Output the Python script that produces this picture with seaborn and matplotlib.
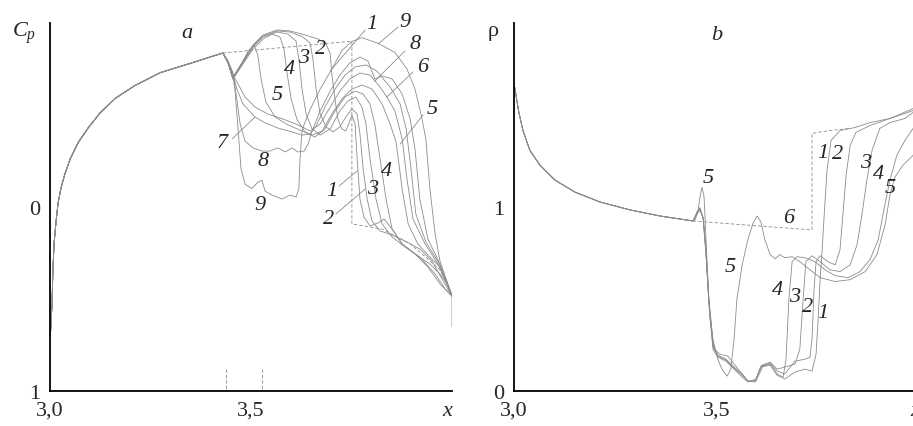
import numpy as np
import pandas as pd
import matplotlib
matplotlib.use("Agg")
import matplotlib.pyplot as plt
import seaborn as sns

sns.set_style("white")
plt.rcParams['font.family'] = ['Liberation Serif', 'DejaVu Serif']
plt.rcParams['mathtext.fontset'] = 'custom'
plt.rcParams['mathtext.it'] = 'Liberation Serif:italic'
plt.rcParams['mathtext.rm'] = 'Liberation Serif'

# ---------------- panel a : Cp(x) ----------------
base_a_x = [3.001, 3.002, 3.005, 3.007, 3.010, 3.015, 3.020, 3.027, 3.037, 3.050, 3.070, 3.095,
            3.124, 3.162, 3.211, 3.274, 3.348, 3.398, 3.430]
base_a_cp = [0.70, 0.65, 0.53, 0.36, 0.20, 0.08, -0.02, -0.10, -0.18, -0.26, -0.35, -0.43,
             -0.51, -0.59, -0.66, -0.73, -0.78, -0.815, -0.837]

a1_x = [3.443, 3.455, 3.480, 3.505, 3.530, 3.565, 3.597, 3.634, 3.667, 3.687, 3.697, 3.701, 3.709, 3.716,
        3.726, 3.736, 3.744, 3.751, 3.759, 3.764, 3.771, 3.781, 3.796, 3.816, 3.831, 3.851, 3.876, 3.908,
        3.945, 3.970, 3.988, 4.000]
a1_cp = [-0.783, -0.707, -0.793, -0.880, -0.935, -0.962, -0.957, -0.935, -0.913, -0.886, -0.832, -0.723,
         -0.587, -0.478, -0.424, -0.413, -0.457, -0.5, -0.451, -0.261, -0.043, 0.054, 0.103, 0.087, 0.065,
         0.120, 0.201, 0.255, 0.310, 0.364, 0.418, 0.484]
a2_x = [3.443, 3.455, 3.480, 3.505, 3.530, 3.565, 3.597, 3.629, 3.647, 3.654, 3.662, 3.672, 3.687, 3.704,
        3.721, 3.736, 3.751, 3.764, 3.771, 3.779, 3.789, 3.801, 3.821, 3.851, 3.883, 3.920, 3.950, 3.975, 4.000]
a2_cp = [-0.783, -0.701, -0.788, -0.875, -0.929, -0.957, -0.951, -0.924, -0.891, -0.804, -0.641, -0.505,
         -0.435, -0.408, -0.435, -0.489, -0.533, -0.505, -0.397, -0.207, -0.043, 0.076, 0.130, 0.152, 0.185,
         0.228, 0.293, 0.391, 0.484]
a3_x = [3.443, 3.455, 3.480, 3.505, 3.530, 3.565, 3.592, 3.612, 3.619, 3.627, 3.637, 3.652, 3.672, 3.697,
        3.721, 3.741, 3.761, 3.776, 3.786, 3.796, 3.811, 3.826, 3.851, 3.883, 3.920, 3.958, 3.983, 4.000]
a3_cp = [-0.783, -0.696, -0.783, -0.870, -0.924, -0.951, -0.940, -0.902, -0.804, -0.641, -0.505, -0.424,
         -0.391, -0.424, -0.522, -0.576, -0.598, -0.543, -0.451, -0.261, -0.043, 0.092, 0.163, 0.217, 0.272,
         0.364, 0.446, 0.484]
a4_x = [3.443, 3.455, 3.480, 3.505, 3.530, 3.552, 3.572, 3.582, 3.590, 3.600, 3.614, 3.634, 3.659, 3.684,
        3.709, 3.734, 3.759, 3.779, 3.796, 3.808, 3.821, 3.836, 3.851, 3.876, 3.908, 3.940, 3.970, 4.000]
a4_cp = [-0.783, -0.696, -0.777, -0.859, -0.913, -0.940, -0.924, -0.859, -0.723, -0.587, -0.478, -0.408,
         -0.380, -0.424, -0.522, -0.598, -0.630, -0.614, -0.560, -0.451, -0.261, -0.043, 0.120, 0.201, 0.255,
         0.326, 0.418, 0.484]
a5_x = [3.443, 3.455, 3.475, 3.493, 3.507, 3.517, 3.525, 3.537, 3.560, 3.592, 3.622, 3.652, 3.677, 3.701,
        3.726, 3.751, 3.776, 3.801, 3.826, 3.846, 3.861, 3.876, 3.891, 3.915, 3.945, 3.970, 3.988, 4.000]
a5_cp = [-0.783, -0.696, -0.772, -0.848, -0.880, -0.826, -0.696, -0.571, -0.489, -0.446, -0.418, -0.391,
         -0.413, -0.505, -0.587, -0.641, -0.663, -0.641, -0.560, -0.451, -0.353, -0.098, 0.092, 0.201, 0.272,
         0.326, 0.408, 0.484]
a6_x = [3.443, 3.455, 3.468, 3.485, 3.510, 3.542, 3.580, 3.617, 3.647, 3.672, 3.697, 3.721, 3.746, 3.771,
        3.796, 3.821, 3.838, 3.858, 3.876, 3.888, 3.903, 3.933, 3.965, 4.000]
a6_cp = [-0.788, -0.717, -0.668, -0.598, -0.543, -0.505, -0.478, -0.446, -0.413, -0.451, -0.543, -0.630,
         -0.696, -0.728, -0.717, -0.652, -0.598, -0.522, -0.370, -0.152, 0.065, 0.201, 0.310, 0.484]
a7_x = [3.443, 3.455, 3.465, 3.480, 3.510, 3.535, 3.567, 3.602, 3.627, 3.647, 3.662, 3.684, 3.709, 3.734,
        3.759, 3.786, 3.813, 3.846, 3.871, 3.886, 3.898, 3.910, 3.935, 3.970, 4.000]
a7_cp = [-0.788, -0.717, -0.641, -0.560, -0.489, -0.457, -0.429, -0.408, -0.391, -0.397, -0.440, -0.543,
         -0.641, -0.717, -0.761, -0.772, -0.739, -0.652, -0.560, -0.424, -0.207, 0.038, 0.190, 0.315, 0.484]
a8_x = [3.443, 3.455, 3.463, 3.473, 3.485, 3.505, 3.527, 3.547, 3.567, 3.585, 3.602, 3.617, 3.632, 3.642,
        3.652, 3.672, 3.697, 3.721, 3.746, 3.771, 3.791, 3.808, 3.826, 3.851, 3.876, 3.896, 3.908, 3.920,
        3.940, 3.970, 4.000]
a8_cp = [-0.793, -0.728, -0.614, -0.451, -0.359, -0.321, -0.304, -0.304, -0.321, -0.299, -0.321, -0.299,
         -0.304, -0.342, -0.413, -0.522, -0.630, -0.717, -0.783, -0.815, -0.793, -0.696, -0.712, -0.696,
         -0.614, -0.478, -0.315, -0.043, 0.174, 0.310, 0.484]
a9_x = [3.443, 3.453, 3.460, 3.468, 3.475, 3.485, 3.502, 3.517, 3.527, 3.535, 3.552, 3.577, 3.597, 3.612,
        3.619, 3.622, 3.627, 3.647, 3.672, 3.701, 3.726, 3.751, 3.776, 3.816, 3.858, 3.888, 3.908, 3.923,
        3.935, 3.945, 3.958, 3.970, 3.985, 4.000, 4.000]
a9_cp = [-0.79, -0.74, -0.64, -0.42, -0.21, -0.125, -0.10, -0.135, -0.145, -0.087, -0.065, -0.043, -0.065,
         -0.054, -0.098, -0.26, -0.42, -0.53, -0.64, -0.75, -0.85, -0.90, -0.92, -0.89, -0.84, -0.75, -0.64,
         -0.505, -0.37, -0.10, 0.147, 0.293, 0.39, 0.48, 0.65]
a_dash_x = [3.430, 3.744, 3.751, 3.751, 3.826, 3.896, 3.970, 4.000]
a_dash_cp = [-0.837, -0.90, -0.90, 0.092, 0.12, 0.20, 0.34, 0.48]
a_marks_x = [3.438, 3.527]
a_marks_cp = [0.88, 1.0]

# ---------------- panel b : rho(x) ----------------
base_b_x = [3.002, 3.007, 3.012, 3.022, 3.039, 3.064, 3.101, 3.150, 3.212, 3.286, 3.360, 3.441]
base_b_rho = [1.649, 1.578, 1.514, 1.416, 1.308, 1.227, 1.146, 1.081, 1.027, 0.984, 0.951, 0.924]

b1_x = [3.451, 3.458, 3.466, 3.473, 3.480, 3.490, 3.502, 3.522, 3.542, 3.562, 3.576, 3.594, 3.608, 3.631,
        3.648, 3.667, 3.692, 3.717, 3.734, 3.744, 3.749, 3.754, 3.759, 3.764, 3.771, 3.781, 3.803, 3.840,
        3.877, 3.926, 3.983, 4.000]
b1_rho = [0.962, 0.984, 0.941, 0.768, 0.497, 0.254, 0.195, 0.173, 0.130, 0.092, 0.054, 0.049, 0.130, 0.141,
          0.086, 0.065, 0.103, 0.119, 0.108, 0.200, 0.389, 0.605, 0.768, 0.957, 1.200, 1.362, 1.416, 1.432,
          1.459, 1.481, 1.535, 1.562]
b2_x = [3.451, 3.458, 3.466, 3.473, 3.480, 3.490, 3.502, 3.522, 3.542, 3.562, 3.576, 3.594, 3.608, 3.631,
        3.648, 3.667, 3.692, 3.717, 3.729, 3.734, 3.739, 3.744, 3.754, 3.773, 3.791, 3.803, 3.810, 3.818,
        3.828, 3.842, 3.877, 3.926, 3.983, 4.000]
b2_rho = [0.968, 0.989, 0.941, 0.757, 0.486, 0.243, 0.189, 0.168, 0.124, 0.086, 0.054, 0.054, 0.135, 0.151,
          0.108, 0.092, 0.162, 0.173, 0.184, 0.281, 0.551, 0.703, 0.735, 0.703, 0.686, 0.768, 0.957, 1.173,
          1.335, 1.405, 1.443, 1.481, 1.524, 1.546]
b3_x = [3.451, 3.458, 3.466, 3.473, 3.480, 3.490, 3.502, 3.522, 3.542, 3.562, 3.576, 3.596, 3.611, 3.631,
        3.648, 3.667, 3.692, 3.704, 3.712, 3.719, 3.734, 3.754, 3.778, 3.803, 3.828, 3.845, 3.857, 3.869,
        3.882, 3.901, 3.926, 3.963, 3.983, 4.000]
b3_rho = [0.973, 0.995, 0.935, 0.746, 0.470, 0.227, 0.184, 0.162, 0.119, 0.076, 0.049, 0.065, 0.141, 0.157,
          0.119, 0.130, 0.146, 0.227, 0.497, 0.703, 0.735, 0.703, 0.659, 0.649, 0.686, 0.795, 0.957, 1.146,
          1.308, 1.427, 1.459, 1.481, 1.514, 1.535]
b4_x = [3.451, 3.458, 3.466, 3.473, 3.483, 3.493, 3.507, 3.527, 3.552, 3.576, 3.596, 3.613, 3.631, 3.648,
        3.663, 3.670, 3.677, 3.685, 3.697, 3.717, 3.741, 3.766, 3.791, 3.823, 3.852, 3.877, 3.897, 3.911,
        3.926, 3.943, 3.963, 3.983, 4.000]
b4_rho = [0.973, 0.995, 0.935, 0.735, 0.389, 0.227, 0.200, 0.189, 0.119, 0.054, 0.054, 0.135, 0.146, 0.092,
          0.076, 0.173, 0.497, 0.703, 0.730, 0.724, 0.703, 0.659, 0.627, 0.616, 0.649, 0.714, 0.822, 0.984,
          1.146, 1.281, 1.362, 1.427, 1.470]
b5_x = [3.446, 3.453, 3.458, 3.463, 3.468, 3.473, 3.480, 3.490, 3.502, 3.512, 3.525, 3.534, 3.542, 3.549,
        3.562, 3.576, 3.589, 3.599, 3.608, 3.618, 3.631, 3.643, 3.655, 3.667, 3.685, 3.704, 3.729, 3.754,
        3.791, 3.828, 3.865, 3.894, 3.914, 3.926, 3.938, 3.958, 3.983, 4.000]
b5_rho = [0.930, 0.973, 1.054, 1.108, 1.059, 0.822, 0.497, 0.281, 0.173, 0.119, 0.081, 0.119, 0.281, 0.497,
          0.686, 0.822, 0.914, 0.951, 0.919, 0.822, 0.741, 0.719, 0.741, 0.724, 0.730, 0.703, 0.659, 0.616,
          0.595, 0.605, 0.649, 0.741, 0.903, 1.065, 1.162, 1.227, 1.281, 1.319]
b_dash_x = [3.441, 3.729, 3.734, 3.734, 3.778, 3.828]
b_dash_rho = [0.924, 0.876, 0.876, 1.400, 1.416, 1.427]

GRAY = '0.55'
LW = 0.6
DASH = (0, (4, 2.5))


def long_frame(base_x, base_y, tails):
    rows = []
    for name, (tx, ty) in tails.items():
        xs = list(base_x) + list(tx)
        ys = list(base_y) + list(ty)
        for i, (xx, yy) in enumerate(zip(xs, ys)):
            rows.append((name, i, xx, yy))
    return pd.DataFrame(rows, columns=['curve', 'order', 'x', 'y'])


df_a = long_frame(base_a_x, base_a_cp, {
    '1': (a1_x, a1_cp), '2': (a2_x, a2_cp), '3': (a3_x, a3_cp), '4': (a4_x, a4_cp),
    '5': (a5_x, a5_cp), '6': (a6_x, a6_cp), '7': (a7_x, a7_cp), '8': (a8_x, a8_cp),
    '9': (a9_x, a9_cp)})
df_b = long_frame(base_b_x, base_b_rho, {
    '1': (b1_x, b1_rho), '2': (b2_x, b2_rho), '3': (b3_x, b3_rho), '4': (b4_x, b4_rho),
    '5': (b5_x, b5_rho)})

fig = plt.figure(figsize=(9.13, 4.27), dpi=100)
ax_a = fig.add_axes([50 / 913, 35 / 427, 402 / 913, 368 / 427])
ax_b = fig.add_axes([514 / 913, 35 / 427, 406 / 913, 368 / 427])

sns.lineplot(data=df_a, x='x', y='y', units='curve', estimator=None, sort=False,
             color=GRAY, lw=LW, ax=ax_a, legend=False)
sns.lineplot(x=a_dash_x, y=a_dash_cp, sort=False, estimator=None, color=GRAY, lw=LW,
             ax=ax_a, linestyle=DASH)
for mx in a_marks_x:
    sns.lineplot(x=[mx, mx], y=a_marks_cp, sort=False, estimator=None, color=GRAY, lw=LW,
                 ax=ax_a, linestyle=DASH)

sns.lineplot(data=df_b, x='x', y='y', units='curve', estimator=None, sort=False,
             color=GRAY, lw=LW, ax=ax_b, legend=False)
sns.lineplot(x=b_dash_x, y=b_dash_rho, sort=False, estimator=None, color=GRAY, lw=LW,
             ax=ax_b, linestyle=DASH)

FS = 16
for ax in (ax_a, ax_b):
    for s in ('top', 'right'):
        ax.spines[s].set_visible(False)
    for s in ('left', 'bottom'):
        ax.spines[s].set_color('black')
        ax.spines[s].set_linewidth(1.3)
    ax.set_xlim(3.0, 4.0)
    ax.set_xlabel('')
    ax.set_ylabel('')
    ax.tick_params(direction='out', length=4, width=1.2, color='black', labelsize=FS, pad=3)
    ax.set_xticks(np.round(np.arange(3.0, 4.01, 0.1), 2))
    xl = ['' for _ in range(11)]
    xl[0] = '3,0'
    xl[5] = '3,5'
    xl[10] = 'x'
    ax.set_xticklabels(xl)
    lab = ax.get_xticklabels()[10]
    lab.set_style('italic')
    lab.set_horizontalalignment('right')
    ax.patch.set_alpha(0)

ax_a.set_ylim(1.0, -1.0)
ax_a.set_yticks(np.round(np.arange(-1.0, 1.01, 0.2), 2))
yl = ['' for _ in range(11)]
yl[5] = '0'
yl[10] = '1'
ax_a.set_yticklabels(yl)

ax_b.set_ylim(0.0, 2.0)
ax_b.set_yticks(np.round(np.arange(0.0, 2.01, 0.2), 2))
yl = ['' for _ in range(11)]
yl[0] = '0'
yl[5] = '1'
ax_b.set_yticklabels(yl)

ax_a.text(-0.065, 0.975, r'$C_p$', transform=ax_a.transAxes, fontsize=FS, ha='center', va='center')
ax_a.text(3.341, -0.951, 'a', fontsize=FS, style='italic', ha='center', va='center')
ax_b.text(-0.052, 0.98, 'ρ', transform=ax_b.transAxes, fontsize=FS, ha='center', va='center')
ax_b.text(3.50, 1.94, 'b', fontsize=FS, style='italic', ha='center', va='center')

# curve labels, panel a (text position, optional leader end)
labels_a = [
    ('1', 3.801, -0.995, (3.784, -0.962), (3.697, -0.739)),
    ('9', 3.883, -1.010, (3.866, -0.978), (3.816, -0.886)),
    ('8', 3.908, -0.886, (3.883, -0.848), (3.808, -0.685)),
    ('6', 3.928, -0.766, (3.903, -0.734), (3.838, -0.598)),
    ('5', 3.950, -0.533, (3.928, -0.500), (3.871, -0.342)),
    ('2', 3.672, -0.859, None, None),
    ('3', 3.632, -0.815, None, None),
    ('4', 3.597, -0.750, None, None),
    ('5', 3.565, -0.614, None, None),
    ('7', 3.428, -0.353, (3.453, -0.370), (3.510, -0.489)),
    ('8', 3.530, -0.250, None, None),
    ('9', 3.522, -0.016, None, None),
    ('1', 3.701, -0.087, (3.719, -0.114), (3.764, -0.196)),
    ('2', 3.692, 0.065, (3.711, 0.038), (3.784, -0.098)),
    ('3', 3.803, -0.098, None, None),
    ('4', 3.838, -0.196, None, None),
]
for t, tx, ty, p0, p1 in labels_a:
    ax_a.text(tx, ty, t, fontsize=FS, style='italic', ha='center', va='center')
    if p0 is not None:
        ax_a.annotate('', xy=p1, xytext=p0,
                      arrowprops=dict(arrowstyle='-', color=GRAY, lw=LW, shrinkA=0, shrinkB=0))

labels_b = [
    ('5', 3.478, 1.162), ('6', 3.677, 0.941), ('5', 3.532, 0.676),
    ('4', 3.648, 0.551), ('3', 3.692, 0.514), ('2', 3.724, 0.459), ('1', 3.761, 0.427),
    ('1', 3.761, 1.297), ('2', 3.798, 1.292), ('3', 3.865, 1.243), ('4', 3.897, 1.184),
    ('5', 3.926, 1.108),
]
for t, tx, ty in labels_b:
    ax_b.text(tx, ty, t, fontsize=FS, style='italic', ha='center', va='center')

fig.savefig('out.png', dpi=100)
